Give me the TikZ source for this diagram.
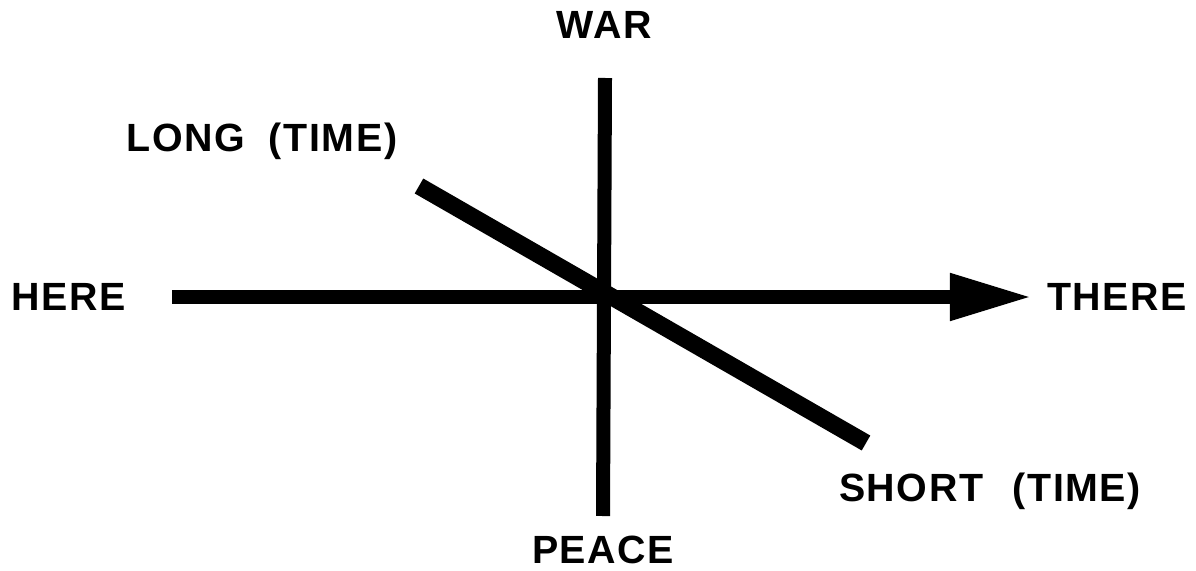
\documentclass[tikz,border=0pt]{standalone}
\usepackage{fontspec}
\setmainfont{Liberation Sans}
\usetikzlibrary{arrows.meta}

\begin{document}
\begin{tikzpicture}[
  x=0.025cm,
  y=-0.025cm,
  line join=miter,
  axisline/.style={draw=black,line width=0.35cm},
  timeline/.style={draw=black,line width=0.43cm},
  arrowline/.style={axisline,-{Triangle[length=2.05cm,width=1.1cm]}},
  word/.style={inner sep=0pt,font=\fontsize{28}{30}\selectfont\bfseries\addfontfeatures{LetterSpace=4}}
]
  % Frame with the margins of the page.
  \useasboundingbox (0,0) rectangle (1196,571);

  % Labels.
  \node[word] (war) at (604,25) {WAR};
  \node[word] (peace) at (603,550) {PEACE};
  \node[word] (here) at (69,297) {HERE};
  \node[word] (there) at (1117,297) {THERE};
  \node[word] (long) at (262,141) {LONG\hspace{0.6em}(TIME)};
  \node[word] (short) at (990,491) {SHORT\hspace{0.75em}(TIME)};

  % Ends of the three strokes.
  \coordinate (wartop) at (605,78);
  \coordinate (peacebot) at (603,516);
  \coordinate (herestart) at (172,297);
  \coordinate (thereend) at (1032,297);
  \coordinate (longend) at (419,186);
  \coordinate (shortend) at (866,443);

  % Vertical and horizontal axes, then the time stroke.
  \draw[axisline] (wartop) -- (peacebot);
  \draw[arrowline] (herestart) -- (thereend);
  \draw[timeline] (longend) -- (shortend);
\end{tikzpicture}
\end{document}
